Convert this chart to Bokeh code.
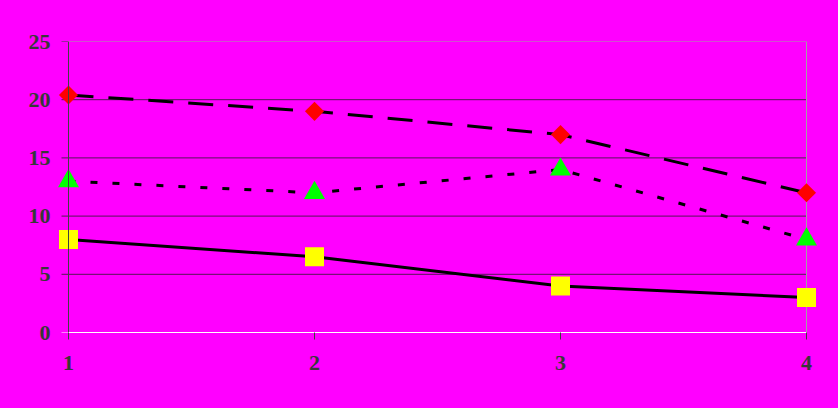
import math
from bokeh.plotting import figure
from bokeh.models import Range1d, LinearAxis, FixedTicker
from bokeh.embed import file_html
from bokeh.resources import INLINE

categories = [1, 2, 3, 4]
series_diamond = [20.4, 19.0, 17.0, 12.0]
series_triangle = [13.0, 12.0, 14.0, 8.0]
series_square = [8.0, 6.5, 4.0, 3.0]
y_ticks = [0, 5, 10, 15, 20, 25]
x_ticks = [1, 2, 3, 4]

BG = "#FF00FF"
AXIS = "#404040"
GRID = "#551555"
BORDER = "#A0A0A0"
LABEL = "#383838"
PX_PER_UNIT = 246.0
pad = 12 / PX_PER_UNIT
tick = 7 / PX_PER_UNIT

p = figure(width=822, height=392, output_backend="svg", toolbar_location=None,
           x_range=Range1d(categories[0] - pad, categories[-1] + pad),
           y_range=Range1d(y_ticks[0], y_ticks[-1]),
           x_axis_type=None, y_axis_type=None,
           min_border_left=48, min_border_right=12, min_border_top=33, min_border_bottom=68)
p.background_fill_color = BG
p.border_fill_color = BG
p.outline_line_color = None

label_font = "Liberation Serif"
x0 = categories[0]
x1 = categories[-1]

# horizontal gridlines (with their tick marks left of the y axis)
grid_ticks = y_ticks[1:-1]
n = len(grid_ticks)
p.segment(x0=[x0 - tick] * n, x1=[x1] * n, y0=grid_ticks, y1=grid_ticks,
          line_color=GRID, line_width=1)
# tick at the top value
p.segment(x0=[x0 - tick], x1=[x0], y0=[y_ticks[-1]], y1=[y_ticks[-1]],
          line_color=AXIS, line_width=1)
# white tick at zero
p.segment(x0=[x0 - tick], x1=[x0], y0=[y_ticks[0]], y1=[y_ticks[0]],
          line_color="white", line_width=1)
# top and right border of the plot area
p.segment(x0=[x0, x1], x1=[x1, x1], y0=[y_ticks[-1], y_ticks[0]], y1=[y_ticks[-1], y_ticks[-1]],
          line_color=BORDER, line_width=1)

# y axis line at x = first category
yax = LinearAxis(ticker=FixedTicker(ticks=[]), fixed_location=x0,
                 bounds=(y_ticks[0], y_ticks[-1]))
yax.axis_line_color = AXIS
yax.major_tick_line_color = None
yax.minor_tick_line_color = None
p.add_layout(yax, "left")

# y tick labels
ylab = LinearAxis(ticker=FixedTicker(ticks=y_ticks))
ylab.axis_line_color = None
ylab.major_tick_line_color = None
ylab.minor_tick_line_color = None
ylab.major_tick_out = 0
ylab.major_tick_in = 0
ylab.major_label_text_font = label_font
ylab.major_label_text_font_style = "bold"
ylab.major_label_text_font_size = "22px"
ylab.major_label_text_color = LABEL
ylab.major_label_standoff = 6
p.add_layout(ylab, "left")

# x axis at y = 0
xax = LinearAxis(ticker=FixedTicker(ticks=x_ticks), bounds=(x0, x1))
xax.axis_line_color = "white"
xax.axis_line_width = 1
xax.major_tick_line_color = AXIS
xax.major_tick_out = 7
xax.major_tick_in = 0
xax.minor_tick_line_color = None
xax.major_label_text_font = label_font
xax.major_label_text_font_style = "bold"
xax.major_label_text_font_size = "22px"
xax.major_label_text_color = LABEL
xax.major_label_standoff = 16
p.add_layout(xax, "below")

# series
p.line(categories, series_diamond, line_color="black", line_width=3, line_dash="25 15")
p.line(categories, series_triangle, line_color="black", line_width=3, line_dash="7 15")
p.line(categories, series_square, line_color="black", line_width=3)

p.scatter(categories, series_diamond, marker="square", size=13.5, angle=math.pi / 4,
          fill_color="#FF0000", line_color=None)
p.scatter(categories, series_triangle, marker="triangle", size=21,
          fill_color="#00FF00", line_color=None)
p.scatter(categories, series_square, marker="square", size=19,
          fill_color="#FFFF00", line_color=None)

html = file_html(p, INLINE)
style = ("<style>html, body { background-color: #FF00FF !important; } "
         "body { margin: 8px !important; height: auto !important; }</style>")
idx = html.rfind("</head>")
if idx >= 0:
    html = html[:idx] + style + html[idx:]
open("out.html", "w").write(html)
